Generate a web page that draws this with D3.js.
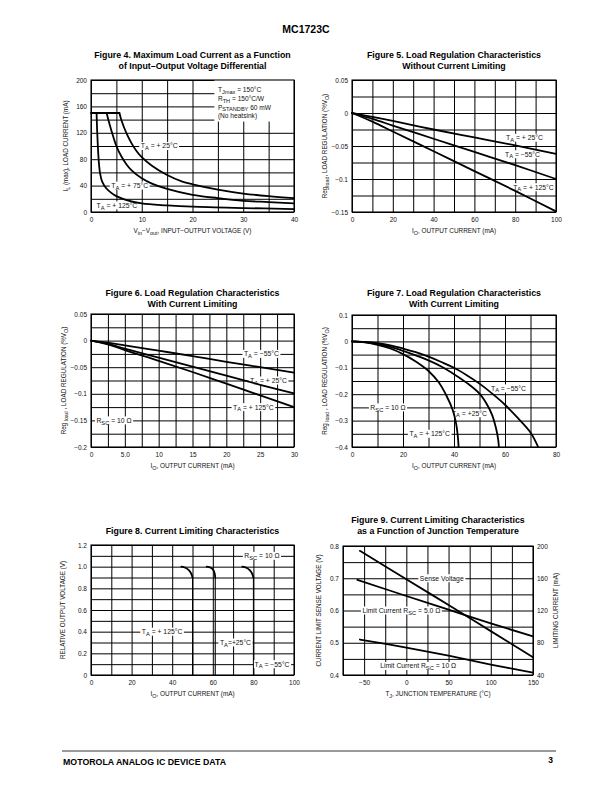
<!DOCTYPE html>
<html>
<head>
<meta charset="utf-8">
<script src="https://cdn.jsdelivr.net/npm/d3@7"></script>
<style>
  body { margin: 0; background: #fff; }
  svg { display: block; font-family: "Liberation Sans", Arial, Helvetica, sans-serif; }
</style>
</head>
<body>
<svg id="page" width="612" height="792"></svg>
<script>
// ---- Figure 4: max load current vs Vin-Vout (V, mA)
const fig4Limit = [[0, 150], [5.6, 150]];
const fig4T25 = [[5.6, 150], [6, 139], [7, 119], [8, 104], [9, 92], [10, 83], [12, 70], [15, 56], [18, 46], [20, 42], [25, 34], [30, 28], [35, 24], [40, 21]];
const fig4T75 = [[3.1, 150], [3.4, 140], [4, 124], [5, 100], [6, 84], [7, 72], [8, 63], [10, 51], [12, 43], [15, 35], [20, 26], [25, 21], [30, 17], [35, 15], [40, 13]];
const fig4T125 = [[1.1, 150], [1.2, 125], [1.35, 100], [1.55, 75], [1.8, 58], [2.2, 46], [3, 36], [4, 29], [5, 24], [7, 18], [10, 13], [15, 10], [20, 8], [30, 6], [40, 4.5]];
const fig4XTicks = [0, 10, 20, 30, 40];
const fig4YTicks = [0, 40, 80, 120, 160, 200];
const fig4Notes = ['T_{Jmax} = 150°C', 'R_{TH} = 150°C/W', 'P_{STANDBY} 60 mW', '(No heatsink)'];

// ---- Figure 5: load regulation without current limiting (mA, %VO)
const fig5T25 = [[0, 0], [10, -0.006], [20, -0.012], [40, -0.025], [60, -0.037], [80, -0.049], [100, -0.062]];
const fig5TM55 = [[0, 0], [10, -0.009], [20, -0.019], [40, -0.039], [60, -0.059], [80, -0.079], [100, -0.1]];
const fig5T125 = [[0, 0], [10, -0.013], [20, -0.028], [40, -0.058], [60, -0.088], [80, -0.118], [100, -0.149]];
const fig5XTicks = [0, 20, 40, 60, 80, 100];
const fig5YTicks = [0.05, 0, -0.05, -0.1, -0.15];

// ---- Figure 6: load regulation with current limiting, 0-30 mA
const fig6TM55 = [[0, 0], [2.5, -0.004], [5, -0.009], [10, -0.019], [15, -0.029], [20, -0.04], [25, -0.05], [30, -0.06]];
const fig6T25 = [[0, 0], [2.5, -0.006], [5, -0.015], [10, -0.032], [15, -0.049], [20, -0.066], [25, -0.083], [30, -0.099]];
const fig6T125 = [[0, 0], [2.5, -0.007], [5, -0.018], [10, -0.038], [15, -0.059], [20, -0.081], [25, -0.103], [30, -0.125]];
const fig6XTicks = [0, 5, 10, 15, 20, 25, 30];
const fig6XLabels = ['0', '5.0', '10', '15', '20', '25', '30'];
const fig6YTicks = [0.05, 0, -0.05, -0.1, -0.15, -0.2];

// ---- Figure 7: load regulation with current limiting, 0-80 mA
const fig7T125 = [[0, 0], [5, -0.004], [10, -0.013], [15, -0.027], [20, -0.048], [25, -0.076], [30, -0.112], [34, -0.155], [37, -0.205], [39.5, -0.26], [40.8, -0.31], [41.5, -0.36], [41.8, -0.4]];
const fig7T25 = [[0, 0], [5, -0.003], [10, -0.01], [15, -0.021], [20, -0.036], [25, -0.053], [30, -0.072], [35, -0.095], [40, -0.124], [45, -0.157], [50, -0.198], [53, -0.24], [55, -0.28], [56.5, -0.33], [57.3, -0.37], [57.6, -0.4]];
const fig7TM55 = [[0, 0], [5, -0.002], [10, -0.007], [15, -0.015], [20, -0.027], [25, -0.041], [30, -0.058], [35, -0.078], [40, -0.1], [45, -0.128], [50, -0.16], [55, -0.198], [60, -0.24], [65, -0.29], [70, -0.345], [73, -0.4]];
const fig7XTicks = [0, 20, 40, 60, 80];
const fig7YTicks = [0.1, 0, -0.1, -0.2, -0.3, -0.4];

// ---- Figure 8: current limiting (mA, V)
const fig8T125 = [[44.5, 1.0], [46.5, 0.99], [48.3, 0.965], [49.5, 0.93], [50, 0.9]];
const fig8T25 = [[57, 1.0], [59, 0.99], [60.4, 0.965], [61, 0.93], [61.2, 0.9]];
const fig8TM55 = [[74.5, 1.0], [76.5, 0.99], [78.3, 0.965], [79.5, 0.93], [80, 0.9]];
const fig8Drop125 = [[50, 0.9], [50, 0]];
const fig8Drop25 = [[61.2, 0.9], [61.2, 0]];
const fig8DropM55 = [[80, 0.9], [80, 0]];
const fig8XTicks = [0, 20, 40, 60, 80, 100];
const fig8YTicks = [0, 0.2, 0.4, 0.6, 0.8, 1.0, 1.2];
const fig8YLabels = ['0', '0.2', '0.4', '0.6', '0.8', '1.0', '1.2'];

// ---- Figure 9: current limiting vs junction temperature (°C; V left, mA right)
const fig9Sense = [[-55, 0.785], [0, 0.697], [50, 0.617], [100, 0.536], [150, 0.455]];
const fig9Limit5 = [[-58, 158], [0, 138], [50, 121], [100, 104], [150, 88]];
const fig9Limit10 = [[-55, 84], [0, 74], [50, 64], [100, 53], [150, 43]];
const fig9XTicks = [-50, 0, 50, 100, 150];
const fig9YTicks = [0.4, 0.5, 0.6, 0.7, 0.8];
const fig9Y2Ticks = [40, 80, 120, 160, 200];

const svg = d3.select('#page');
const minus = (d) => String(d).replace('-', '\u2212');

// text with _{subscript} parts
function rich(sel, str) {
  const parts = str.split(/(_\{[^}]*\})/).filter((s) => s.length);
  let shift = 0;
  parts.forEach((p) => {
    const sub = p.startsWith('_{');
    const target = sub ? 1.7 : 0;
    sel.append('tspan')
      .attr('dy', target - shift)
      .style('font-size', sub ? '0.85em' : null)
      .text(sub ? p.slice(2, -1) : p);
    shift = target;
  });
  if (shift) sel.append('tspan').attr('dy', -shift).text('\u200b');
  return sel;
}

function tag(g, px, py, str) {
  const t = g.append('text').attr('x', px).attr('y', py + 2.4).attr('font-size', 6.8).attr('fill', '#111');
  rich(t, str);
  const b = t.node().getBBox();
  g.insert('rect', () => t.node())
    .attr('x', b.x - 1.5).attr('y', py - 4)
    .attr('width', b.width + 3).attr('height', 8)
    .attr('fill', '#fff');
}

function drawFigure(c) {
  const g = svg.append('g');
  const w = c.right - c.left;
  const h = c.bottom - c.top;
  const x = d3.scaleLinear().domain(c.xDomain).range([c.left, c.right]);
  const y = d3.scaleLinear().domain(c.yDomain).range([c.bottom, c.top]);
  const y2 = c.y2Domain ? d3.scaleLinear().domain(c.y2Domain).range([c.bottom, c.top]) : y;

  c.title.forEach((t, i) => {
    g.append('text')
      .attr('x', c.left + w / 2).attr('y', c.titleY + i * 10.8)
      .attr('text-anchor', 'middle').attr('font-weight', 'bold').attr('font-size', 8.8)
      .text(t);
  });

  // grid
  g.append('g').attr('class', 'grid').attr('transform', `translate(0,${c.bottom})`)
    .call(d3.axisBottom(x).tickValues(c.xGrid).tickSize(-h).tickFormat(''));
  g.append('g').attr('class', 'grid').attr('transform', `translate(${c.left},0)`)
    .call(d3.axisLeft(y).tickValues(c.yGrid).tickSize(-w).tickFormat(''));
  g.selectAll('.grid .domain').remove();
  g.selectAll('.grid line').attr('stroke', '#000').attr('stroke-width', 1);

  // note box (Figure 4)
  if (c.box) {
    g.append('rect')
      .attr('x', x(c.box.x0)).attr('y', y(c.box.y0))
      .attr('width', x(c.box.x1) - x(c.box.x0)).attr('height', y(c.box.y1) - y(c.box.y0))
      .attr('fill', '#fff');
    c.box.lines.forEach((s, i) => {
      const t = g.append('text').attr('x', x(c.box.tx)).attr('y', y(c.box.y0) + 12 + i * 8.8)
        .attr('font-size', 6.6).attr('fill', '#111');
      rich(t, s);
    });
  }

  (c.labels || []).forEach((l) => tag(g, x(l.x), (l.axis === 'y2' ? y2 : y)(l.y), l.text));

  g.append('rect').attr('x', c.left).attr('y', c.top).attr('width', w).attr('height', h)
    .attr('fill', 'none').attr('stroke', '#000').attr('stroke-width', 1.1);

  c.series.forEach((s) => {
    const ys = s.axis === 'y2' ? y2 : y;
    const line = d3.line().x((d) => x(d[0])).y((d) => ys(d[1])).curve(d3.curveCatmullRom.alpha(0.5));
    g.append('path').attr('d', line(s.data))
      .attr('fill', 'none').attr('stroke', '#000')
      .attr('stroke-width', s.width || 1.8).attr('stroke-linecap', 'round');
  });

  // tick labels
  const styleAxis = (a) => {
    a.select('.domain').remove();
    a.attr('font-size', 6.5).attr('font-family', null);
    a.selectAll('text').attr('fill', '#111');
  };
  g.append('g').attr('transform', `translate(0,${c.bottom})`)
    .call(d3.axisBottom(x).tickValues(c.xTicks).tickSize(0).tickPadding(5)
      .tickFormat((d, i) => (c.xLabels ? c.xLabels[i] : minus(d))))
    .call(styleAxis);
  g.append('g').attr('transform', `translate(${c.left},0)`)
    .call(d3.axisLeft(y).tickValues(c.yTicks).tickSize(0).tickPadding(4)
      .tickFormat((d, i) => (c.yLabels ? c.yLabels[i] : minus(d))))
    .call(styleAxis);
  if (c.y2Ticks) {
    g.append('g').attr('transform', `translate(${c.right},0)`)
      .call(d3.axisRight(y2).tickValues(c.y2Ticks).tickSize(0).tickPadding(4))
      .call(styleAxis);
  }

  // axis titles
  rich(g.append('text').attr('x', c.left + w / 2).attr('y', c.bottom + 21)
    .attr('text-anchor', 'middle').attr('font-size', 6.4).attr('fill', '#111'), c.xTitle);
  rich(g.append('text')
    .attr('transform', `translate(${c.left - c.yTitleGap},${c.top + h / 2}) rotate(-90)`)
    .attr('text-anchor', 'middle').attr('font-size', 6.3).attr('fill', '#111'), c.yTitle);
  if (c.y2Title) {
    rich(g.append('text')
      .attr('transform', `translate(${c.right + c.y2TitleGap},${c.top + h / 2}) rotate(-90)`)
      .attr('text-anchor', 'middle').attr('font-size', 6.3).attr('fill', '#111'), c.y2Title);
  }
}

// header & footer
svg.append('text').attr('x', 306).attr('y', 33).attr('text-anchor', 'middle')
  .attr('font-weight', 'bold').attr('font-size', 10.5).text('MC1723C');
svg.append('line').attr('x1', 62).attr('x2', 556).attr('y1', 751).attr('y2', 751)
  .attr('stroke', '#000').attr('stroke-width', 0.8);
svg.append('text').attr('x', 63).attr('y', 765).attr('font-weight', 'bold').attr('font-size', 8.8)
  .text('MOTOROLA ANALOG IC DEVICE DATA');
svg.append('text').attr('x', 553).attr('y', 763).attr('text-anchor', 'end').attr('font-weight', 'bold')
  .attr('font-size', 8.5).text('3');

const TA25 = 'T_{A} = + 25°C';
const TA125 = 'T_{A} = + 125°C';
const TAM55 = 'T_{A} = \u221255°C';

drawFigure({
  left: 91, right: 294, top: 80, bottom: 212, titleY: 58,
  title: ['Figure 4. Maximum Load Current as a Function', 'of Input\u2013Output Voltage Differential'],
  xDomain: [0, 40], yDomain: [0, 200],
  xGrid: d3.range(0, 41, 5), yGrid: d3.range(0, 201, 20),
  xTicks: fig4XTicks, yTicks: fig4YTicks,
  xTitle: 'V_{in}\u2212V_{out}, INPUT\u2212OUTPUT VOLTAGE (V)',
  yTitle: 'I_{L} (max), LOAD CURRENT (mA)', yTitleGap: 23,
  box: { x0: 24.3, x1: 40, y0: 200, y1: 137, tx: 25, lines: fig4Notes },
  labels: [
    { x: 9.8, y: 100, text: TA25 },
    { x: 4.0, y: 40, text: 'T_{A} = + 75°C' },
    { x: 1.1, y: 10, text: TA125 },
  ],
  series: [{ data: fig4Limit }, { data: fig4T25 }, { data: fig4T75 }, { data: fig4T125 }],
});

drawFigure({
  left: 352, right: 556, top: 80, bottom: 212, titleY: 58,
  title: ['Figure 5. Load Regulation Characteristics', 'Without Current Limiting'],
  xDomain: [0, 100], yDomain: [-0.15, 0.05],
  xGrid: d3.range(0, 101, 10), yGrid: d3.range(-0.15, 0.051, 0.025),
  xTicks: fig5XTicks, yTicks: fig5YTicks,
  xTitle: 'I_{O}, OUTPUT CURRENT (mA)',
  yTitle: 'Reg_{load}, LOAD REGULATION (%V_{O})', yTitleGap: 25,
  labels: [
    { x: 75.5, y: -0.0375, text: TA25 },
    { x: 75, y: -0.0625, text: TAM55 },
    { x: 79, y: -0.1125, text: TA125 },
  ],
  series: [{ data: fig5T25 }, { data: fig5TM55 }, { data: fig5T125 }],
});

drawFigure({
  left: 91, right: 294, top: 314, bottom: 447, titleY: 296,
  title: ['Figure 6. Load Regulation Characteristics', 'With Current Limiting'],
  xDomain: [0, 30], yDomain: [-0.2, 0.05],
  xGrid: d3.range(0, 30.1, 2.5), yGrid: d3.range(-0.2, 0.051, 0.025),
  xTicks: fig6XTicks, xLabels: fig6XLabels, yTicks: fig6YTicks,
  xTitle: 'I_{O}, OUTPUT CURRENT (mA)',
  yTitle: 'Reg_{ load} , LOAD REGULATION (%V_{O})', yTitleGap: 25,
  labels: [
    { x: 22.6, y: -0.025, text: TAM55 },
    { x: 23.5, y: -0.075, text: TA25 },
    { x: 21, y: -0.125, text: TA125 },
    { x: 0.8, y: -0.15, text: 'R_{SC} = 10 \u03a9' },
  ],
  series: [{ data: fig6TM55 }, { data: fig6T25 }, { data: fig6T125 }],
});

drawFigure({
  left: 352, right: 556, top: 315, bottom: 447, titleY: 296,
  title: ['Figure 7. Load Regulation Characteristics', 'With Current Limiting'],
  xDomain: [0, 80], yDomain: [-0.4, 0.1],
  xGrid: d3.range(0, 81, 10), yGrid: d3.range(-0.4, 0.101, 0.05),
  xTicks: fig7XTicks, yTicks: fig7YTicks,
  xTitle: 'I_{O}, OUTPUT CURRENT (mA)',
  yTitle: 'Reg_{ load} , LOAD REGULATION (%V_{O})', yTitleGap: 25,
  labels: [
    { x: 54.5, y: -0.178, text: TAM55 },
    { x: 7.2, y: -0.25, text: 'R_{SC} = 10 \u03a9' },
    { x: 39.2, y: -0.272, text: 'T_{A} = +25°C' },
    { x: 22.5, y: -0.35, text: TA125 },
  ],
  series: [{ data: fig7T125 }, { data: fig7T25 }, { data: fig7TM55 }],
});

drawFigure({
  left: 91, right: 294, top: 545, bottom: 675, titleY: 534,
  title: ['Figure 8. Current Limiting Characteristics'],
  xDomain: [0, 100], yDomain: [0, 1.2],
  xGrid: d3.range(0, 101, 10), yGrid: d3.range(0, 1.21, 0.1),
  xTicks: fig8XTicks, yTicks: fig8YTicks, yLabels: fig8YLabels,
  xTitle: 'I_{O}, OUTPUT CURRENT (mA)',
  yTitle: 'RELATIVE OUTPUT VOLTAGE (V)', yTitleGap: 26,
  labels: [
    { x: 75.5, y: 1.1, text: 'R_{SC} = 10 \u03a9' },
    { x: 25, y: 0.4, text: TA125 },
    { x: 63.5, y: 0.3, text: 'T_{A}=+25°C' },
    { x: 80.6, y: 0.1, text: TAM55 },
  ],
  series: [
    { data: fig8T125 }, { data: fig8T25 }, { data: fig8TM55 },
    { data: fig8Drop125, width: 1 }, { data: fig8Drop25, width: 1.1 }, { data: fig8DropM55, width: 1 },
  ],
});

drawFigure({
  left: 343, right: 533, top: 546, bottom: 675, titleY: 523,
  title: ['Figure 9. Current Limiting Characteristics', 'as a Function of Junction Temperature'],
  xDomain: [-75, 150], yDomain: [0.4, 0.8], y2Domain: [40, 200],
  xGrid: d3.range(-75, 151, 25), yGrid: d3.range(0.4, 0.801, 0.05),
  xTicks: fig9XTicks, yTicks: fig9YTicks, y2Ticks: fig9Y2Ticks,
  xTitle: 'T_{J}, JUNCTION TEMPERATURE (°C)',
  yTitle: 'CURRENT LIMIT SENSE VOLTAGE (V)', yTitleGap: 22,
  y2Title: 'LIMITING CURRENT (mA)', y2TitleGap: 25,
  labels: [
    { x: 16, y: 0.7, text: 'Sense Voltage' },
    { x: -52, y: 0.6, text: 'Limit Current R_{SC} = 5.0 \u03a9' },
    { x: -31, y: 0.428, text: 'Limit Current R_{SC} = 10 \u03a9' },
  ],
  series: [{ data: fig9Sense }, { data: fig9Limit5, axis: 'y2' }, { data: fig9Limit10, axis: 'y2' }],
});
</script>
</body>
</html>
